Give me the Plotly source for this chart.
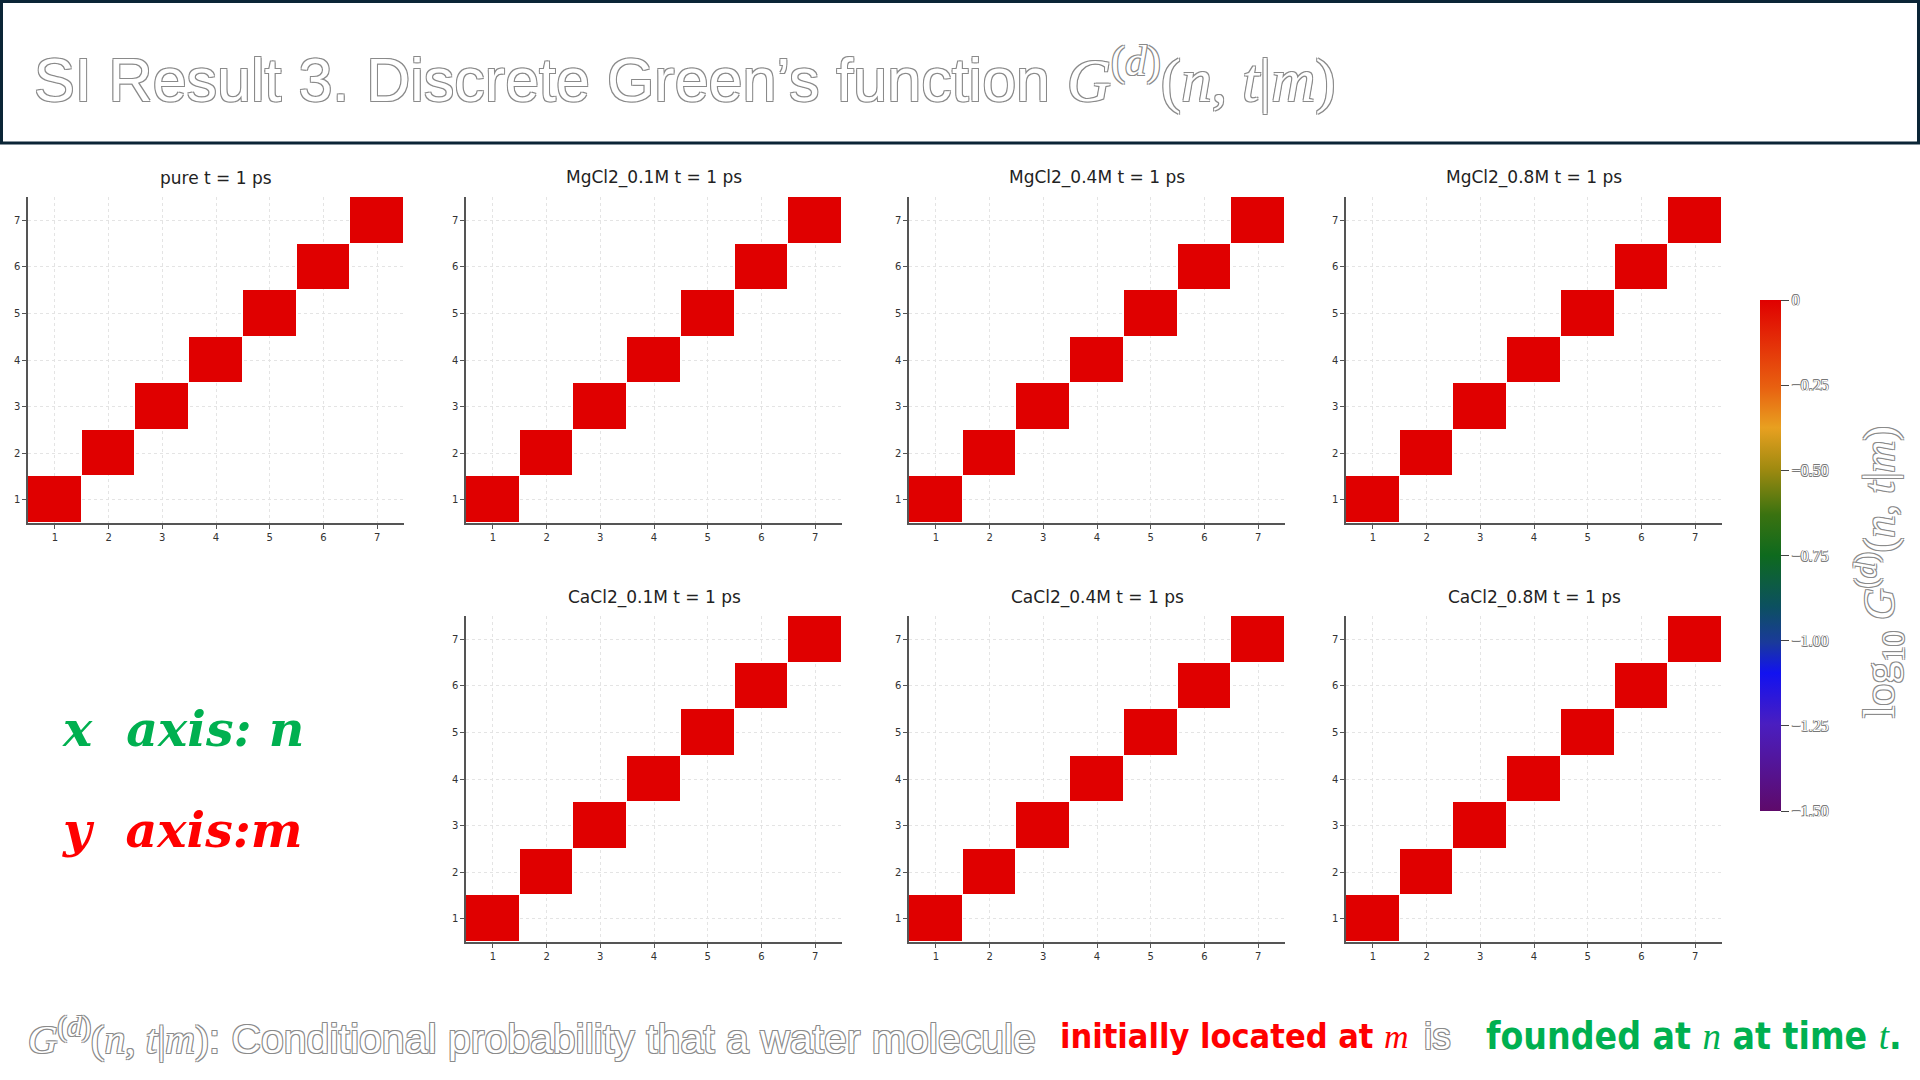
import plotly.graph_objects as go

W, H = 1920, 1080

# panels, in reading order
panels = ["pure", "MgCl2_0.1M", "MgCl2_0.4M", "MgCl2_0.8M",
          "CaCl2_0.1M", "CaCl2_0.4M", "CaCl2_0.8M"]
time_label = "t = 1 ps"
sites = [1, 2, 3, 4, 5, 6, 7]   # n (x) and m (y)

# log10 G(n, t|m) on the diagonal n == m, all read as 0 (G = 1); off-diagonal cells are empty
diag_logG = {
    "pure":       [0, 0, 0, 0, 0, 0, 0],
    "MgCl2_0.1M": [0, 0, 0, 0, 0, 0, 0],
    "MgCl2_0.4M": [0, 0, 0, 0, 0, 0, 0],
    "MgCl2_0.8M": [0, 0, 0, 0, 0, 0, 0],
    "CaCl2_0.1M": [0, 0, 0, 0, 0, 0, 0],
    "CaCl2_0.4M": [0, 0, 0, 0, 0, 0, 0],
    "CaCl2_0.8M": [0, 0, 0, 0, 0, 0, 0],
}

cbar_tickvals = [0, -0.25, -0.5, -0.75, -1.0, -1.25, -1.5]
cbar_ticktext = ["0", "\u22120.25", "\u22120.50", "\u22120.75", "\u22121.00", "\u22121.25", "\u22121.50"]

# grid slot (row, col) of each panel, pixel boxes of the grid
slot = {"pure": (0, 0), "MgCl2_0.1M": (0, 1), "MgCl2_0.4M": (0, 2), "MgCl2_0.8M": (0, 3),
        "CaCl2_0.1M": (1, 1), "CaCl2_0.4M": (1, 2), "CaCl2_0.8M": (1, 3)}
col_px = [(28, 404), (466, 842), (909, 1285), (1346, 1722)]
row_px = [(197, 523), (616, 942)]

rainbow = [
    [0.00, "#5e0a6a"], [0.17, "#4a1ec0"], [0.27, "#1212f0"], [0.33, "#1a3a9a"],
    [0.40, "#0c5060"], [0.50, "#0e6a1e"], [0.58, "#3a7210"], [0.67, "#a08a10"],
    [0.75, "#e8a020"], [0.83, "#e86010"], [1.00, "#e00000"],
]

OUTLINE = "-1px -1px 0 #8a8a8a, 1px -1px 0 #8a8a8a, -1px 1px 0 #8a8a8a, 1px 1px 0 #8a8a8a"
THIN_OUTLINE = "-0.6px -0.6px 0 #777, 0.6px -0.6px 0 #777, -0.6px 0.6px 0 #777, 0.6px 0.6px 0 #777"
MATH = '<span style="font-family:Liberation Serif"><i>G</i><sup>(<i>d</i>)</sup>(<i>n</i>, <i>t</i>|<i>m</i>)</span>'


def px_x(v):
    return v / W


def px_y(v):
    return 1 - v / H


fig = go.Figure()
annotations = []
layout_axes = {}

for k, name in enumerate(panels, start=1):
    r, c = slot[name]
    diag = diag_logG[name]
    z = [[diag[n] if n == m else None for n in range(len(sites))] for m in range(len(sites))]
    fig.add_trace(go.Heatmap(
        x=sites, y=sites, z=z, coloraxis="coloraxis",
        xaxis=f"x{k}", yaxis=f"y{k}", xgap=1, ygap=1,
        hovertemplate="n=%{x}, m=%{y}<br>log10 G=%{z}<extra></extra>",
    ))
    x0, x1 = col_px[c]
    y0, y1 = row_px[r]
    axis_style = dict(
        range=[0.5, 7.5], tickvals=sites, showgrid=True, gridcolor="#e4e4e4",
        griddash="dot", gridwidth=1, zeroline=False, showline=True,
        linecolor="#555555", linewidth=1.5, ticks="outside", ticklen=4,
        tickcolor="#555555", tickfont=dict(family="DejaVu Sans", size=10, color="#333333"),
        fixedrange=True,
    )
    layout_axes[f"xaxis{k}"] = dict(axis_style, domain=[px_x(x0), px_x(x1)], anchor=f"y{k}")
    layout_axes[f"yaxis{k}"] = dict(axis_style, domain=[px_y(y1), px_y(y0)], anchor=f"x{k}")
    annotations.append(dict(
        text=f"{name} {time_label}", x=px_x((x0 + x1) / 2), y=px_y(y0 - 19),
        xref="paper", yref="paper", showarrow=False, xanchor="center", yanchor="middle",
        font=dict(family="DejaVu Sans", size=17, color="#222222"),
    ))

# header
annotations.append(dict(
    text="SI Result 3. Discrete Green\u2019s function " + MATH,
    x=px_x(32), y=px_y(76), xref="paper", yref="paper", showarrow=False,
    xanchor="left", yanchor="middle",
    font=dict(family="Liberation Sans", size=61, color="white", shadow=OUTLINE),
))

# axis legend on the left
annotations.append(dict(
    text="<b><i>x\u00a0\u00a0axis:\u00a0n</i></b>", x=px_x(60), y=px_y(729),
    xref="paper", yref="paper", showarrow=False, xanchor="left", yanchor="middle",
    font=dict(family="DejaVu Serif", size=49, color="#00b050"),
))
annotations.append(dict(
    text="<b><i>y\u00a0\u00a0axis:m</i></b>", x=px_x(60), y=px_y(830),
    xref="paper", yref="paper", showarrow=False, xanchor="left", yanchor="middle",
    font=dict(family="DejaVu Serif", size=49, color="#ff0000"),
))

# colorbar label, rotated
annotations.append(dict(
    text="log<sub>10</sub> " + MATH, x=px_x(1880), y=px_y(572),
    xref="paper", yref="paper", showarrow=False, xanchor="center", yanchor="middle",
    textangle=-90,
    font=dict(family="Liberation Serif", size=44, color="white", shadow=OUTLINE),
))

# footnote
foot_y = px_y(1036)
annotations.append(dict(
    text=MATH + ": Conditional probability that a water molecule",
    x=px_x(26), y=foot_y, xref="paper", yref="paper", showarrow=False,
    xanchor="left", yanchor="middle",
    font=dict(family="Liberation Sans", size=41, color="white", shadow=OUTLINE),
))
annotations.append(dict(
    text='<b>initially located at </b><span style="font-family:Liberation Serif"><i>m</i></span>',
    x=px_x(1058), y=foot_y, xref="paper", yref="paper", showarrow=False,
    xanchor="left", yanchor="middle",
    font=dict(family="Liberation Sans Narrow, DejaVu Sans Condensed, Liberation Sans", size=34, color="#ff0000"),
))
annotations.append(dict(
    text="is", x=px_x(1422), y=foot_y, xref="paper", yref="paper", showarrow=False,
    xanchor="left", yanchor="middle",
    font=dict(family="Liberation Sans", size=37, color="white", shadow=OUTLINE),
))
annotations.append(dict(
    text='<b>founded at </b><span style="font-family:Liberation Serif"><i>n</i></span><b> at time </b>'
         '<span style="font-family:Liberation Serif"><i>t</i></span><b>.</b>',
    x=px_x(1484), y=foot_y, xref="paper", yref="paper", showarrow=False,
    xanchor="left", yanchor="middle",
    font=dict(family="Liberation Sans Narrow, DejaVu Sans Condensed, Liberation Sans", size=37, color="#00b050"),
))

fig.update_layout(
    width=W, height=H, margin=dict(l=0, r=0, t=0, b=0),
    paper_bgcolor="white", plot_bgcolor="white", showlegend=False,
    coloraxis=dict(
        colorscale=rainbow, cmin=-1.5, cmax=0,
        colorbar=dict(
            x=px_x(1760), xanchor="left", y=px_y(555.5), yanchor="middle",
            len=511 / H, lenmode="fraction", thickness=21, xpad=0, ypad=0,
            outlinewidth=0, tickvals=cbar_tickvals, ticktext=cbar_ticktext,
            ticks="outside", ticklen=8, tickcolor="#444444",
            tickfont=dict(family="Liberation Serif", size=16, color="white", shadow=THIN_OUTLINE),
        ),
    ),
    annotations=annotations,
    shapes=[dict(
        type="rect", xref="paper", yref="paper",
        x0=px_x(1.5), x1=px_x(W - 1.5), y0=px_y(143), y1=px_y(1.5),
        line=dict(color="#0b2536", width=3), fillcolor="rgba(0,0,0,0)",
    )],
    **layout_axes,
)

fig.write_html("out.html", config={"displayModeBar": False},
               post_script="document.body.style.margin='0';")
